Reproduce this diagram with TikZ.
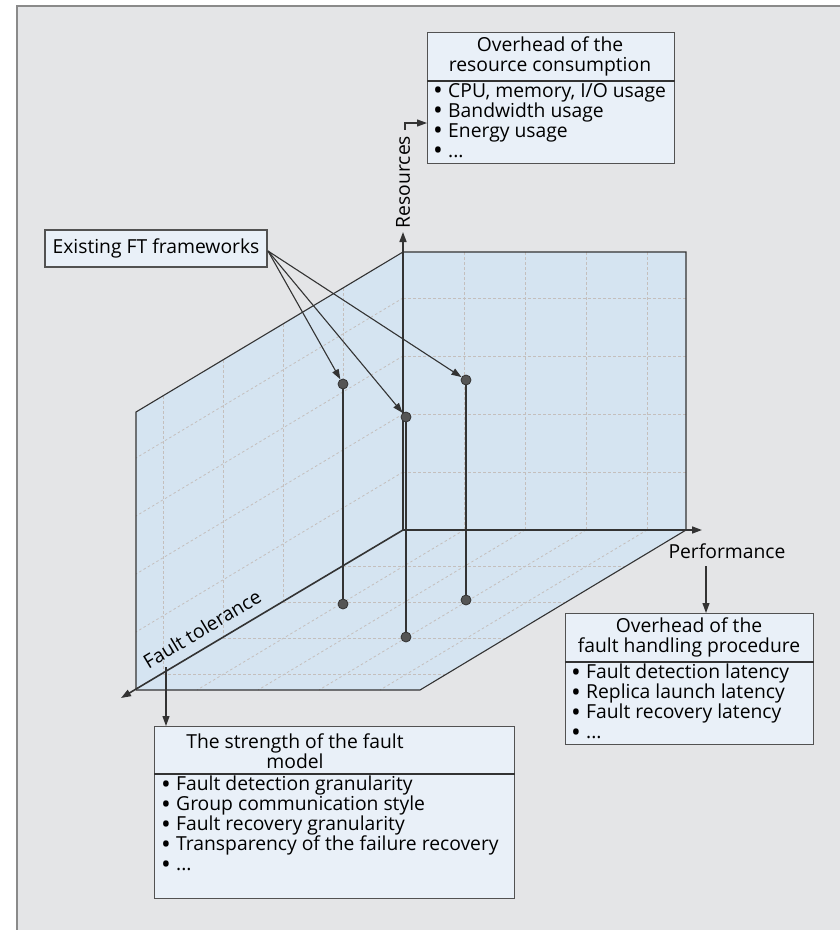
\documentclass[tikz,border=0pt]{standalone}
\usepackage{fontspec}
\usepackage{graphicx}
\setmainfont{Open Sans}
\usetikzlibrary{arrows.meta}
\definecolor{panel}{HTML}{E4E5E7}
\definecolor{panelrule}{HTML}{8A8A8A}
\definecolor{plane}{HTML}{D5E4F1}
\definecolor{boxfill}{HTML}{E9F0F8}
\definecolor{ink}{HTML}{333333}
\definecolor{gridc}{HTML}{C4BFBD}
\definecolor{dotc}{HTML}{555555}
\newcommand\itemdot{\makebox[15pt][l]{\raisebox{-2.7pt}{\scalebox{1.35}{\textbullet}}}}
\begin{document}
\begin{tikzpicture}[x=1pt,y=-1pt,
  edge/.style={draw=ink, line width=1.1pt},
  axis/.style={draw=ink, line width=1.6pt, -{Triangle[length=10pt,width=7pt]}},
  gridl/.style={draw=gridc, line width=0.8pt, dash pattern=on 2.5pt off 2.5pt},
  pt/.style={circle, fill=dotc, draw=ink, line width=0.8pt, minimum size=10pt, inner sep=0pt},
  stem/.style={draw=ink, line width=1.1pt},
  ptr/.style={draw=ink, line width=1.1pt, -{Triangle[length=10pt,width=7pt]}},
  panelbox/.style={draw=ink!85, fill=boxfill, line width=1.1pt, inner sep=0pt},
  txt/.style={font=\fontsize{19.3}{20}\selectfont, inner sep=0pt, text=black},
]
% page and grey panel
\useasboundingbox (0,0) rectangle (840,930);
\fill[white] (0,0) rectangle (840,930);
\fill[panel] (17,6) rectangle (840,930);
\draw[panelrule, line width=1.2pt] (17,930) -- (17,6) -- (840,6);

% the three coordinate planes
\fill[plane] (136,412) -- (403,252) -- (403,530) -- (136,690) -- cycle;
\fill[plane] (403,252) rectangle (686,530);
\fill[plane] (403,530) -- (686,530) -- (420,690) -- (136,690) -- cycle;

% dashed grids
\foreach \x in {464,525,586,647} \draw[gridl] (\x,252) -- (\x,530);
\foreach \y in {472,414,356,298} \draw[gridl] (403,\y) -- (686,\y);
\foreach \k in {1,2,3,4} \draw[gridl] ({403-60*\k},{252+36*\k}) -- ({403-60*\k},{530+36*\k});
\foreach \h in {58,116,174,232} \draw[gridl] (403,{530-\h}) -- (136,{690-\h});
\foreach \k in {1,2,3,4} \draw[gridl] ({403-60*\k},{530+36*\k}) -- ({686-60*\k},{530+36*\k});
\foreach \x in {464,525,586,647} \draw[gridl] (\x,530) -- ({\x-267},690);

% plane outlines
\draw[edge] (136,690) -- (136,412) -- (403,252) -- (686,252) -- (686,530);
\draw[edge] (136,690) -- (420,690) -- (686,530);

% axes
\coordinate (O) at (403,530);
\coordinate (ytip) at (403,232);
\coordinate (xtip) at (702,530);
\coordinate (ztip) at (121,698);
\draw[axis] (O) -- (ytip);
\draw[axis] (O) -- (xtip);
\draw[axis] (O) -- (ztip);

% frameworks as points with their floor projections
\node[pt] (p1b) at (343,604) {};
\node[pt] (p2b) at (406,637) {};
\node[pt] (p3b) at (466,600) {};
\draw[stem] (343,384) -- (p1b);
\draw[stem] (406,417) -- (p2b);
\draw[stem] (466,380) -- (p3b);
\node[pt] (p1) at (343,384) {};
\node[pt] (p2) at (406,417) {};
\node[pt] (p3) at (466,380) {};

% axis labels
\node[txt, rotate=90] (reslab) at (403,182) {Resources};
\node[txt] (perflab) at (727,551) {Performance};
\node[txt, rotate=31] (ftlab) at (202,629) {Fault tolerance};

% resource box
\node[panelbox, minimum width=247pt, minimum height=131pt, anchor=north west] (res) at (427,32) {};
\coordinate (resdiv) at (427,81);
\draw[edge] (res.west |- resdiv) -- (res.east |- resdiv);
\node[txt, align=center] (restitle) at (550,56) {Overhead of the\\resource consumption};
\node[txt, align=left, anchor=north west] (reslist) at (433,83)
  {\itemdot CPU, memory, I/O usage\\\itemdot Bandwidth usage\\\itemdot Energy usage\\\itemdot ...};

% fault handling box
\node[panelbox, minimum width=248pt, minimum height=131pt, anchor=north west] (fh) at (565,613) {};
\coordinate (fhdiv) at (565,662);
\draw[edge] (fh.west |- fhdiv) -- (fh.east |- fhdiv);
\node[txt, align=center] (fhtitle) at (689,637) {Overhead of the\\fault handling procedure};
\node[txt, align=left, anchor=north west] (fhlist) at (571,664)
  {\itemdot Fault detection latency\\\itemdot Replica launch latency\\\itemdot Fault recovery latency\\\itemdot ...};

% fault model box
\node[panelbox, minimum width=360pt, minimum height=172pt, anchor=north west] (fm) at (154,726) {};
\coordinate (fmdiv) at (154,774);
\draw[edge] (fm.west |- fmdiv) -- (fm.east |- fmdiv);
\node[txt, align=center] (fmtitle) at (295,751) {The strength of the fault\\model};
\node[txt, align=left, anchor=north west] (fmlist) at (161,776)
  {\itemdot Fault detection granularity\\\itemdot Group communication style\\\itemdot Fault recovery granularity\\\itemdot Transparency of the failure recovery\\\itemdot ...};

% frameworks label box
\node[panelbox, txt, minimum width=222pt, minimum height=37pt] (ft) at (156,248.5) {Existing FT frameworks};

% connectors
\coordinate (reselb) at (405,130);
\coordinate (resin) at (427,123);
\draw[ptr] (reselb) |- (resin);
\coordinate (perfout) at (706,566);
\draw[ptr] (perfout) -- (perfout |- fh.north);
\coordinate (ftout) at (166,667);
\draw[ptr] (ftout) -- (ftout |- fm.north);
\coordinate (ftsrc) at (268,251);
\draw[ptr] (ftsrc) -- (p1);
\draw[ptr] (ftsrc) -- (p2);
\draw[ptr] (ftsrc) -- (p3);
\end{tikzpicture}
\end{document}
